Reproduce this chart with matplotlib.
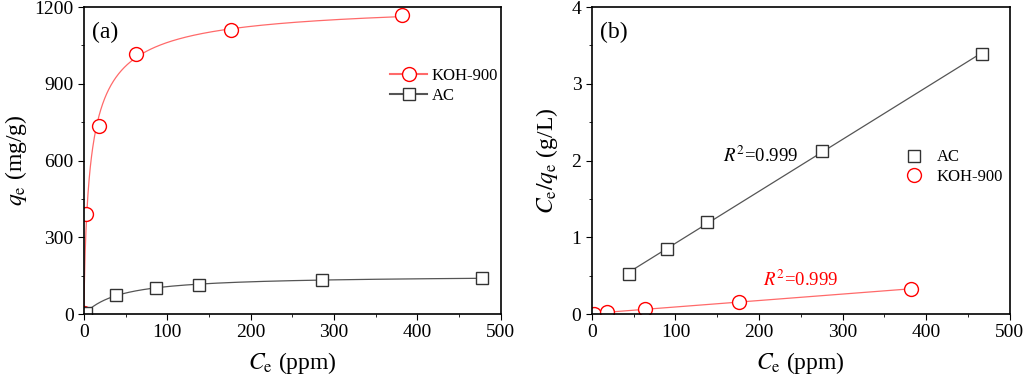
import numpy as np
import matplotlib.pyplot as plt
from matplotlib.ticker import MultipleLocator

plt.rcParams['font.family'] = ['Liberation Serif', 'DejaVu Serif']
plt.rcParams['mathtext.fontset'] = 'stix'

# (a) adsorption isotherms
koh_ce = [0.5, 2, 18, 63, 176, 382]
koh_qe = [3, 393, 735, 1017, 1110, 1170]
ac_ce = [2, 39, 87, 138, 286, 478]
ac_qe = [2, 75, 101, 115, 133, 141]

# (b) linearised Langmuir
ac_ce_b = [44, 90, 138, 275, 467]
ac_ratio = [0.52, 0.85, 1.20, 2.13, 3.39]
koh_ce_b = [2, 18, 63, 176, 382]
koh_ratio = [0.005, 0.024, 0.062, 0.159, 0.327]

r2_label = r'$R^2$=0.999'


def sips_fit(ce, qe):
    # grid search over K and n, qm solved by least squares
    ce = np.array(ce, float)
    qe = np.array(qe, float)
    best = None
    for n in np.linspace(0.3, 1.2, 91):
        for k in np.logspace(-3, 0, 300):
            kc = (k * ce) ** n
            f = kc / (1 + kc)
            qm = (f @ qe) / (f @ f)
            sse = np.sum((qm * f - qe) ** 2)
            if best is None or sse < best[0]:
                best = (sse, qm, k, n)
    return best[1:]


def sips(c, p):
    qm, k, n = p
    kc = (k * c) ** n
    return qm * kc / (1 + kc)


koh_p = sips_fit(koh_ce, koh_qe)
ac_p = sips_fit(ac_ce, ac_qe)
ac_fit = np.polyfit(ac_ce_b, ac_ratio, 1)
koh_fit = np.polyfit(koh_ce_b, koh_ratio, 1)

fig = plt.figure(figsize=(10.24, 3.86), dpi=100)
ax1 = fig.add_axes([0.082, 0.1865, 0.407, 0.795])
ax2 = fig.add_axes([0.578, 0.1865, 0.408, 0.795])

red_line = '#ff6a6a'
gray_line = '#555555'

c1 = np.linspace(0, max(koh_ce), 800)
c2 = np.linspace(0, max(ac_ce), 800)
ax1.plot(c1, sips(c1, koh_p), color=red_line, lw=0.9)
ax1.plot(c2, sips(c2, ac_p), color=gray_line, lw=0.9)
ax1.plot(koh_ce, koh_qe, 'o', mfc='white', mec='red', ms=10, mew=1.0)
ax1.plot(ac_ce, ac_qe, 's', mfc='white', mec='#333333', ms=9, mew=1.0)
ax1.plot([], [], '-o', color=red_line, mfc='white', mec='red', ms=10, label='KOH-900')
ax1.plot([], [], '-s', color=gray_line, mfc='white', mec='#333333', ms=9, label='AC')
ax1.legend(loc='upper right', bbox_to_anchor=(1.03, 0.85), frameon=False, fontsize=12,
           handlelength=2.2, handletextpad=0.3, labelspacing=0.2)
ax1.set_xlim(0, 500)
ax1.set_ylim(0, 1200)
ax1.xaxis.set_major_locator(MultipleLocator(100))
ax1.xaxis.set_minor_locator(MultipleLocator(50))
ax1.yaxis.set_major_locator(MultipleLocator(300))
ax1.yaxis.set_minor_locator(MultipleLocator(150))
ax1.set_xlabel(r'$C_\mathrm{e}$ (ppm)', fontsize=17, labelpad=6)
ax1.set_ylabel(r'$q_\mathrm{e}$ (mg/g)', fontsize=17, labelpad=4)
ax1.text(0.02, 0.9, '(a)', transform=ax1.transAxes, fontsize=17)

x_fit = np.linspace(min(ac_ce_b), max(ac_ce_b), 50)
ax2.plot(x_fit, np.polyval(ac_fit, x_fit), color=gray_line, lw=0.9)
x_fit2 = np.linspace(0, max(koh_ce_b), 50)
ax2.plot(x_fit2, np.polyval(koh_fit, x_fit2), color=red_line, lw=0.9)
ax2.plot(ac_ce_b, ac_ratio, 's', mfc='white', mec='#333333', ms=9, mew=1.0, label='AC')
ax2.plot(koh_ce_b, koh_ratio, 'o', mfc='white', mec='red', ms=10, mew=1.0, label='KOH-900')
ax2.legend(loc='upper right', bbox_to_anchor=(1.02, 0.585), frameon=False, fontsize=12,
           handlelength=1.5, handletextpad=0.6, labelspacing=0.2)
ax2.text(157, 1.98, r2_label, fontsize=13.5, color='black')
ax2.text(205, 0.37, r2_label, fontsize=13.5, color='red')
ax2.set_xlim(0, 500)
ax2.set_ylim(0, 4)
ax2.xaxis.set_major_locator(MultipleLocator(100))
ax2.xaxis.set_minor_locator(MultipleLocator(50))
ax2.yaxis.set_major_locator(MultipleLocator(1))
ax2.yaxis.set_minor_locator(MultipleLocator(0.5))
ax2.set_xlabel(r'$C_\mathrm{e}$ (ppm)', fontsize=17, labelpad=6)
ax2.set_ylabel(r'$C_\mathrm{e}/q_\mathrm{e}$ (g/L)', fontsize=17, labelpad=8)
ax2.text(0.02, 0.9, '(b)', transform=ax2.transAxes, fontsize=17)

for ax in (ax1, ax2):
    ax.tick_params(which='major', direction='out', length=4, labelsize=14)
    ax.tick_params(which='minor', direction='out', length=2.5)
    for s in ax.spines.values():
        s.set_linewidth(1.2)

fig.savefig('out.png', dpi=100)
